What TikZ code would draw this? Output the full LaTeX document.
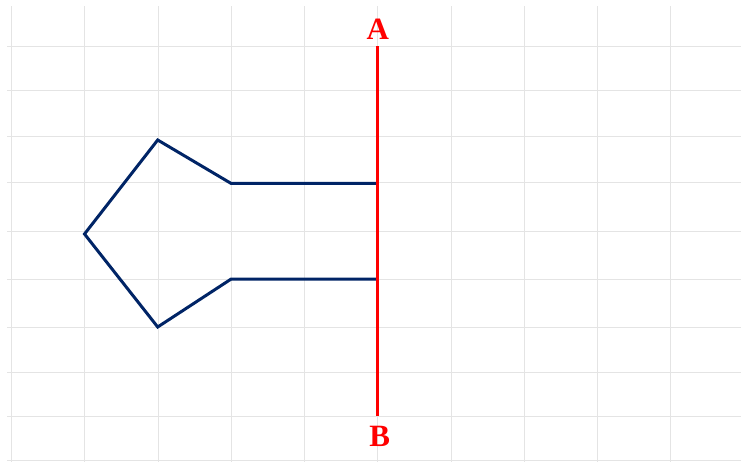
\documentclass[tikz,border=0pt]{standalone}
\usepackage{fontspec}
\setmainfont{Liberation Serif}
\usetikzlibrary{positioning}
\definecolor{navy}{RGB}{0,36,102}
\definecolor{gridgray}{RGB}{228,228,228}
\tikzset{gridline/.style={gridgray, line width=1pt},
  outline/.style={navy, line width=3pt, line join=miter},
  axis/.style={red, line width=3pt},
  lbl/.style={red, font=\fontsize{31}{31}\selectfont\bfseries, inner sep=0pt}}

\begin{document}
\begin{tikzpicture}[x=1pt, y=-1pt]
  \useasboundingbox (0,0) rectangle (741,462);
  % grid
  \foreach \x in {11.5,84.8,158,231.2,304.5,377.8,451,524.3,597.6,670.9}
    \draw[gridline] (\x,6) -- (\x,462);
  \foreach \y in {46.5,91,137,183,232,279,327,372,416,460}
    \draw[gridline] (7,\y) -- (741,\y);
  % figure
  \coordinate (top) at (157.7,140);
  \coordinate (ut) at (231.2,183.5);
  \coordinate (ur) at (377.8,183.5);
  \coordinate (tip) at (84.5,234);
  \coordinate (bot) at (157.7,327);
  \coordinate (lt) at (231.2,279);
  \coordinate (lr) at (377.8,279);
  \draw[outline] (ur) -- (ut) -- (top) -- (tip) -- (bot) -- (lt) -- (lr);
  % mirror line
  \coordinate (a) at (377.8,46.5);
  \coordinate (b) at (377.8,416);
  \draw[axis] (a) -- (b);
  \node[lbl, above=7pt of a] (la) {A};
  \node[lbl, below=10pt of b, xshift=2pt] (lb) {B};
\end{tikzpicture}
\end{document}
